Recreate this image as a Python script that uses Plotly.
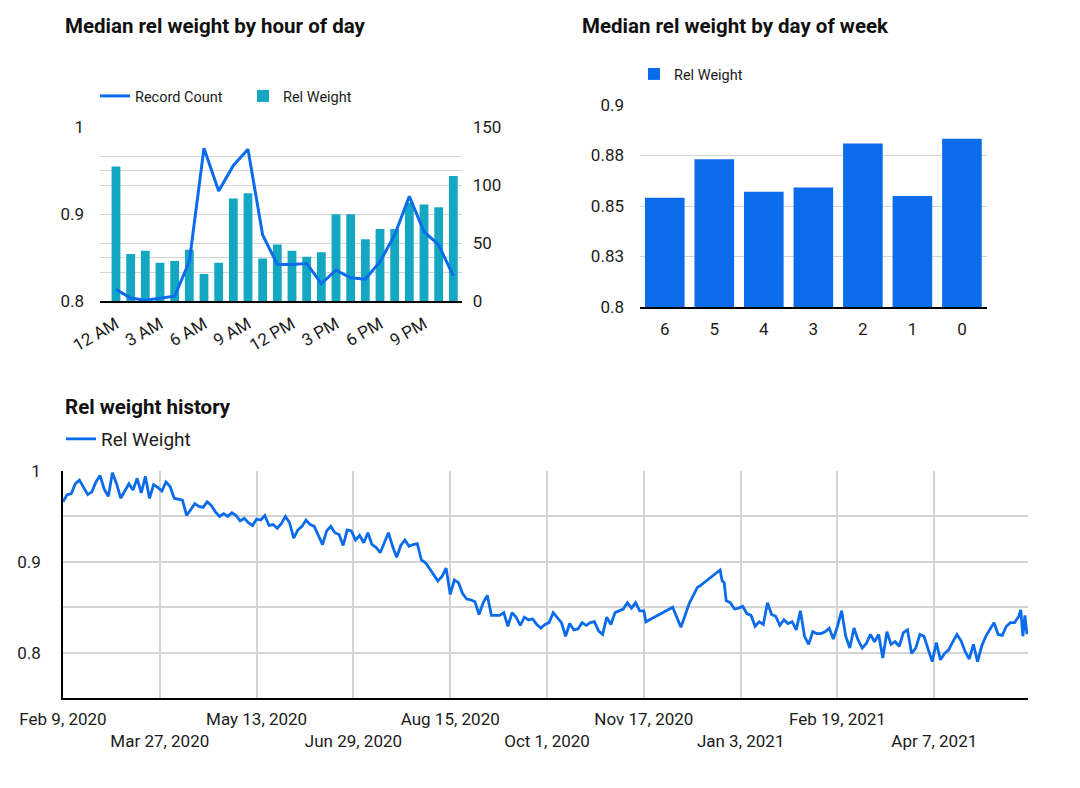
import plotly.graph_objects as go
import pandas as pd

# ---------------- data ----------------
hours = list(range(24))
hour_tick_vals = [0, 3, 6, 9, 12, 15, 18, 21]
hour_tick_text = ["12 AM", "3 AM", "6 AM", "9 AM", "12 PM", "3 PM", "6 PM", "9 PM"]
hour_rel_weight = [0.955, 0.854, 0.858, 0.844, 0.846, 0.859, 0.831, 0.844,
                   0.918, 0.924, 0.849, 0.865, 0.858, 0.851, 0.856, 0.900,
                   0.900, 0.871, 0.883, 0.883, 0.913, 0.911, 0.908, 0.944]
hour_record_count = [10, 2.6, 0.6, 2.6, 4.1, 34, 132, 95, 117, 131, 57, 31.6,
                     31.6, 32.4, 15, 26.6, 20, 18.8, 33.9, 57, 90.4, 60, 48.4, 21.7]

dow_labels = ["6", "5", "4", "3", "2", "1", "0"]
dow_rel_weight = [0.8541, 0.8731, 0.8571, 0.8592, 0.8810, 0.8550, 0.8833]

hist_start = "2020-02-09"
hist_day_offsets = (list(range(0, 281, 2))
                    + [282, 283, 296, 300, 304, 308, 309, 319, 320, 321, 322]
                    + list(range(324, 465, 2))
                    + [465, 466, 467, 468])
hist_rel_weight = [
    # Feb - May 2020
    0.966, 0.974, 0.975, 0.986, 0.990, 0.982, 0.974, 0.977, 0.988, 0.995,
    0.980, 0.972, 0.998, 0.986, 0.970, 0.978, 0.986, 0.979, 0.992, 0.976,
    0.994, 0.970, 0.985, 0.982, 0.978, 0.988, 0.983, 0.970, 0.969, 0.968,
    0.951, 0.958, 0.964, 0.961, 0.960, 0.966, 0.962, 0.955, 0.950, 0.953,
    0.950, 0.954, 0.951, 0.945, 0.948, 0.943, 0.940, 0.947,
    # May - Aug 2020
    0.946, 0.951, 0.940, 0.941, 0.937, 0.942, 0.950, 0.943, 0.926, 0.935,
    0.939, 0.946, 0.941, 0.939, 0.928, 0.919, 0.934, 0.939, 0.932, 0.930,
    0.918, 0.935, 0.934, 0.924, 0.929, 0.921, 0.932, 0.919, 0.916, 0.910,
    0.921, 0.932, 0.917, 0.905, 0.918, 0.924, 0.917, 0.919, 0.920, 0.902,
    0.899, 0.892, 0.886, 0.879, 0.884, 0.893, 0.864,
    # Aug - Nov 2020
    0.880, 0.877, 0.865, 0.859, 0.858, 0.856, 0.842, 0.855, 0.863, 0.841,
    0.841, 0.841, 0.844, 0.829, 0.844, 0.839, 0.830, 0.839, 0.836, 0.837,
    0.831, 0.827, 0.831, 0.833, 0.844, 0.839, 0.833, 0.818, 0.832, 0.825,
    0.826, 0.833, 0.830, 0.833, 0.834, 0.824, 0.820, 0.839, 0.831, 0.844,
    0.846, 0.848, 0.855, 0.849, 0.855, 0.846,
    # sparse Nov - Dec 2020
    0.846, 0.834, 0.850, 0.828, 0.854, 0.872, 0.873, 0.891, 0.879, 0.877, 0.857,
    # Dec 2020 - May 2021
    0.855, 0.848, 0.849, 0.851, 0.843, 0.841, 0.829, 0.834, 0.831, 0.855,
    0.842, 0.840, 0.830, 0.836, 0.832, 0.834, 0.825, 0.846, 0.818, 0.809,
    0.823, 0.821, 0.821, 0.823, 0.827, 0.815, 0.829, 0.846, 0.818, 0.805,
    0.827, 0.814, 0.805, 0.810, 0.820, 0.812, 0.820, 0.794, 0.823, 0.809,
    0.812, 0.807, 0.822, 0.825, 0.799, 0.805, 0.820, 0.818, 0.803, 0.790,
    0.811, 0.792, 0.799, 0.803, 0.812, 0.820, 0.813, 0.801, 0.793, 0.809,
    0.790, 0.807, 0.818, 0.826, 0.833, 0.820, 0.819, 0.829, 0.833, 0.833,
    0.840,
    0.847, 0.818, 0.841, 0.820,
]
hist_tick_dates = ["2020-02-09", "2020-03-27", "2020-05-13", "2020-06-29",
                   "2020-08-15", "2020-10-01", "2020-11-17", "2021-01-03",
                   "2021-02-19", "2021-04-07"]
hist_tick_labels = ["Feb 9, 2020", "Mar 27, 2020", "May 13, 2020", "Jun 29, 2020",
                    "Aug 15, 2020", "Oct 1, 2020", "Nov 17, 2020", "Jan 3, 2021",
                    "Feb 19, 2021", "Apr 7, 2021"]

hist_dates = pd.to_datetime(hist_start) + pd.to_timedelta(hist_day_offsets, unit="D")

# ---------------- styling ----------------
# The page body has an 8px default margin, so the figure is sized to fit the
# 1080x788 window after that offset.
OFF = 8
W, H = 1080 - OFF, 788 - OFF
BLUE = "#0B6CEB"
TEAL = "#13A7C3"
GRID = "#d4d4d4"
TXT = "#1c1c1c"
FONT = "Roboto"


def px_x(p):
    return (p - OFF) / W


def px_y(p):
    return 1 - (p - OFF) / H


fig = go.Figure()

# Hour chart
fig.add_trace(go.Scatter(x=hours, y=hour_record_count, name="Record Count",
                         mode="lines", line=dict(color=BLUE, width=3),
                         xaxis="x", yaxis="y2", legend="legend"))
fig.add_trace(go.Bar(x=hours, y=hour_rel_weight, name="Rel Weight",
                     marker=dict(color=TEAL, line=dict(width=0)), width=0.6,
                     xaxis="x", yaxis="y", legend="legend"))

# Day of week chart
fig.add_trace(go.Bar(x=dow_labels, y=dow_rel_weight, name="Rel Weight",
                     marker=dict(color=BLUE, line=dict(width=0)), width=0.8,
                     xaxis="x2", yaxis="y3", legend="legend2"))

# History chart
fig.add_trace(go.Scatter(x=hist_dates, y=hist_rel_weight, name="Rel Weight",
                         mode="lines", line=dict(color=BLUE, width=2.8),
                         xaxis="x3", yaxis="y4", legend="legend3"))

# display labels for alternating rows
hist_ticktext = [t if i % 2 == 0 else "<br>" + t for i, t in enumerate(hist_tick_labels)]

tickfont = dict(family=FONT, size=17, color=TXT)

fig.update_layout(
    width=W, height=H,
    margin=dict(l=0, r=0, t=0, b=0, autoexpand=False),
    paper_bgcolor="white", plot_bgcolor="white",
    font=dict(family=FONT, color=TXT),
    showlegend=True,
    xaxis=dict(domain=[px_x(100), px_x(461.7)], anchor="y", automargin=False,
               range=[-1.09, 23.57], tickmode="array",
               tickvals=hour_tick_vals, ticktext=hour_tick_text,
               tickangle=-30, tickfont=dict(family=FONT, size=17, color=TXT),
               showgrid=False, zeroline=False, showline=True,
               linecolor="black", linewidth=1.5, ticks="", ticklabelstandoff=5),
    yaxis=dict(domain=[px_y(301), px_y(127.3)], anchor="x", automargin=False,
               range=[0.8, 1.0], tickmode="array",
               tickvals=[0.8, 0.85, 0.9, 0.95, 1.0],
               ticktext=["0.8", "", "0.9", "", "1"],
               tickfont=tickfont, showgrid=True, gridcolor=GRID, gridwidth=1,
               zeroline=False, showline=False, ticks="", ticklabelstandoff=15),
    yaxis2=dict(domain=[px_y(301), px_y(127.3)], anchor="x", overlaying="y",
                automargin=False,
                side="right", range=[0, 150], tickmode="array",
                tickvals=[0, 25, 50, 75, 100, 125, 150],
                ticktext=["0", "", "50", "", "100", "", "150"],
                tickfont=tickfont, showgrid=True, gridcolor=GRID, gridwidth=1,
                zeroline=False, showline=False, ticks="", ticklabelstandoff=10),
    xaxis2=dict(domain=[px_x(640), px_x(986.7)], anchor="y3", type="category",
                automargin=False,
                tickfont=tickfont, showgrid=False, zeroline=False,
                showline=True, linecolor="black", linewidth=1.5, ticks="",
                ticklabelstandoff=6),
    yaxis3=dict(domain=[px_y(307), px_y(105)], anchor="x2", automargin=False,
                range=[0.8, 0.9], tickmode="array",
                tickvals=[0.8, 0.825, 0.85, 0.875, 0.9],
                ticktext=["0.8", "0.83", "0.85", "0.88", "0.9"],
                tickfont=tickfont, showgrid=True, gridcolor=GRID, gridwidth=1,
                zeroline=False, showline=False, ticks="", ticklabelstandoff=15),
    xaxis3=dict(domain=[px_x(63), px_x(1028)], anchor="y4", type="date",
                automargin=False,
                range=["2020-02-09", "2021-05-22 12:00"], tickmode="array",
                tickvals=hist_tick_dates, ticktext=hist_ticktext, tickangle=0,
                tickfont=tickfont, showgrid=True, gridcolor=GRID, gridwidth=1.5,
                zeroline=False, showline=True, linecolor="black", linewidth=1.5,
                ticks="", ticklabelstandoff=5),
    yaxis4=dict(domain=[px_y(698), px_y(471)], anchor="x3", automargin=False,
                range=[0.75, 1.0], tickmode="array",
                tickvals=[0.75, 0.8, 0.85, 0.9, 0.95, 1.0],
                ticktext=["", "0.8", "", "0.9", "", "1"],
                tickfont=tickfont, showgrid=True, gridcolor=GRID, gridwidth=1.5,
                zeroline=False, showline=True, linecolor="black", linewidth=1.5,
                ticks="", ticklabelstandoff=17),
    legend=dict(x=px_x(95), y=px_y(96), xanchor="left", yanchor="middle",
                orientation="h", font=dict(family=FONT, size=14.5, color=TXT),
                bgcolor="rgba(0,0,0,0)", traceorder="normal",
                entrywidth=103, entrywidthmode="pixels"),
    legend2=dict(x=px_x(634), y=px_y(74), xanchor="left", yanchor="middle",
                 orientation="h", font=dict(family=FONT, size=14.5, color=TXT),
                 bgcolor="rgba(0,0,0,0)"),
    legend3=dict(x=px_x(61), y=px_y(439), xanchor="left", yanchor="middle",
                 orientation="h", font=dict(family=FONT, size=19, color=TXT),
                 bgcolor="rgba(0,0,0,0)"),
    annotations=[
        dict(text="<b>Median rel weight by hour of day</b>", x=px_x(63), y=px_y(26),
             xref="paper", yref="paper", xanchor="left", yanchor="middle",
             showarrow=False, font=dict(family=FONT, size=20.5, color="#111")),
        dict(text="<b>Median rel weight by day of week</b>", x=px_x(580), y=px_y(26),
             xref="paper", yref="paper", xanchor="left", yanchor="middle",
             showarrow=False, font=dict(family=FONT, size=20.5, color="#111")),
        dict(text="<b>Rel weight history</b>", x=px_x(63), y=px_y(407),
             xref="paper", yref="paper", xanchor="left", yanchor="middle",
             showarrow=False, font=dict(family=FONT, size=20.5, color="#111")),
    ],
)

fig.write_html("out.html", config={"displayModeBar": False})
